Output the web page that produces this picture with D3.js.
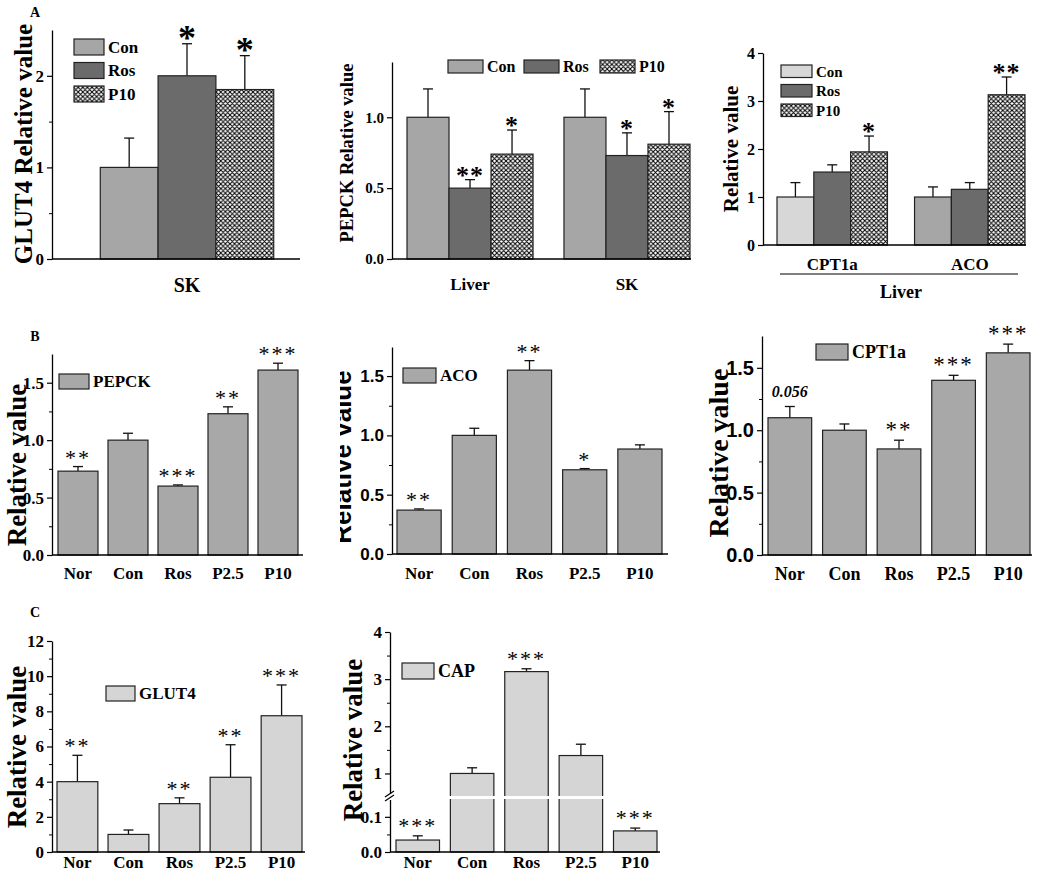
<!DOCTYPE html>
<html><head><meta charset="utf-8">
<script src="https://cdn.jsdelivr.net/npm/d3@7"></script>
<style>body{margin:0;background:#fff;} svg{display:block;}</style>
</head><body>
<svg id="c" width="1039" height="873"></svg>
<script>
// ---------------- DATA ----------------
const aSeries = ["Con", "Ros", "P10"];

const a1Groups = ["SK"];
const a1Values = [[1.00, 2.00, 1.85]];
const a1Errors = [[0.32, 0.35, 0.37]];
const a1Stars  = [["", "*", "*"]];
const a1YTicks = [0, 1, 2];

const a2Groups = ["Liver", "SK"];
const a2Values = [[1.00, 0.50, 0.74], [1.00, 0.73, 0.81]];
const a2Errors = [[0.20, 0.06, 0.17], [0.20, 0.16, 0.23]];
const a2Stars  = [["", "**", "*"], ["", "*", "*"]];
const a2YTicks = [0.0, 0.5, 1.0];

const a3Groups = ["CPT1a", "ACO"];
const a3Values = [[1.00, 1.52, 1.94], [1.00, 1.16, 3.13]];
const a3Errors = [[0.30, 0.15, 0.33], [0.21, 0.14, 0.37]];
const a3Stars  = [["", "", "*"], ["", "", "**"]];
const a3YTicks = [0, 1, 2, 3, 4];
const a3GroupLabel = "Liver";

const groups = ["Nor", "Con", "Ros", "P2.5", "P10"];

const pepckValues = [0.73, 1.00, 0.60, 1.23, 1.61];
const pepckErrors = [0.04, 0.06, 0.01, 0.06, 0.06];
const pepckStars  = ["**", "", "***", "**", "***"];

const acoValues = [0.37, 1.00, 1.55, 0.71, 0.885];
const acoErrors = [0.01, 0.06, 0.08, 0.01, 0.035];
const acoStars  = ["**", "", "**", "*", ""];

const cptValues = [1.10, 1.00, 0.85, 1.40, 1.62];
const cptErrors = [0.09, 0.05, 0.07, 0.04, 0.07];
const cptStars  = ["0.056", "", "**", "***", "***"];

const bYTicks = [0.0, 0.5, 1.0, 1.5];
const bYMinor = [0.25, 0.75, 1.25];

const glutValues = [4.0, 1.0, 2.75, 4.25, 7.75];
const glutErrors = [1.5, 0.25, 0.33, 1.85, 1.75];
const glutStars  = ["**", "", "**", "**", "***"];
const glutYTicks = [0, 2, 4, 6, 8, 10, 12];
const glutYMinor = [1, 3, 5, 7, 9, 11];

const capValues = [0.034, 1.00, 3.16, 1.38, 0.06];
const capErrors = [0.012, 0.12, 0.06, 0.24, 0.008];
const capStars  = ["***", "", "***", "", "***"];
const capYTicks = [0.0, 0.1, 1, 2, 3, 4];
const capYMinor = [0.05, 1.5, 2.5, 3.5];

// ---------------- STYLE ----------------
const SERIF = "'Liberation Serif','Times New Roman',serif";
const SANS = "'Liberation Sans',Arial,sans-serif";
const C_MED = "#a6a6a6", C_DARK = "#6b6b6b", C_LIGHT = "#d7d7d7", C_B = "#a8a8a8", C_C = "#d5d5d5";
const STROKE = "#222";

const svg = d3.select("#c");
const defs = svg.append("defs");
const pat = defs.append("pattern").attr("id", "hatch").attr("patternUnits", "userSpaceOnUse")
  .attr("width", 4.6).attr("height", 4.6);
pat.append("rect").attr("width", 4.6).attr("height", 4.6).attr("fill", "#fff");
pat.append("path").attr("d", "M0,0L4.6,4.6M4.6,0L0,4.6M-1,1L1,-1M3.6,5.6L5.6,3.6M-1,3.6L1,5.6M3.6,-1L5.6,1")
  .attr("stroke", "#000").attr("stroke-width", 1);

function txt(g, x, y, s, size, opt = {}) {
  return g.append("text").attr("x", x).attr("y", y).text(s)
    .attr("font-family", opt.family || SERIF).attr("font-size", size)
    .attr("font-weight", opt.weight || "bold").attr("font-style", opt.italic ? "italic" : "normal")
    .attr("text-anchor", opt.anchor || "middle").attr("letter-spacing", opt.ls || 0)
    .attr("fill", "#000");
}

function yAxis(g, scale, x, major, minor, fmt, size, family) {
  const ax = g.append("g").attr("transform", `translate(${x},0)`)
    .call(d3.axisLeft(scale).tickValues(major).tickSize(5).tickSizeOuter(0).tickPadding(3).tickFormat(fmt));
  ax.select(".domain").attr("stroke", "#000").attr("stroke-width", 1.3);
  ax.selectAll(".tick line").attr("stroke", "#000").attr("stroke-width", 1.2);
  ax.selectAll("text").attr("font-family", family).attr("font-size", size)
    .attr("font-weight", "bold").attr("fill", "#000");
  if (minor) {
    const m = g.append("g").attr("transform", `translate(${x},0)`)
      .call(d3.axisLeft(scale).tickValues(minor).tickSize(3).tickFormat(""));
    m.select(".domain").remove();
    m.selectAll("line").attr("stroke", "#000").attr("stroke-width", 1);
  }
  return ax;
}

function yLabel(g, cx, cy, s, size, family) {
  g.append("text").attr("transform", `translate(${cx + 0.35 * size},${cy}) rotate(-90)`)
    .text(s).attr("font-family", family || SERIF).attr("font-size", size).attr("font-weight", "bold")
    .attr("text-anchor", "middle").attr("fill", "#000");
}

function errBar(g, cx, y1, y2, cap) {
  g.append("line").attr("x1", cx).attr("x2", cx).attr("y1", y1).attr("y2", y2).attr("stroke", "#111").attr("stroke-width", 1.3);
  g.append("line").attr("x1", cx - cap).attr("x2", cx + cap).attr("y1", y2).attr("y2", y2).attr("stroke", "#111").attr("stroke-width", 1.3);
}

// ---------------- GROUPED PANELS (A) ----------------
function groupedPanel(o) {
  const g = svg.append("g");
  const y = d3.scaleLinear().domain(o.ydom).range(o.yr);
  const x0 = d3.scaleBand().domain(o.groups).range(o.xr).paddingInner(0.197);
  const x1 = d3.scaleBand().domain(aSeries).range([0, x0.bandwidth()]);
  o.groups.forEach((gr, gi) => {
    aSeries.forEach((s, si) => {
      const v = o.values[gi][si], e = o.errors[gi][si];
      const bx = x0(gr) + x1(s), cx = bx + x1.bandwidth() / 2;
      errBar(g, cx, y(v), y(v + e), 5);
      g.append("rect").attr("x", bx).attr("y", y(v)).attr("width", x1.bandwidth()).attr("height", y(0) - y(v))
        .attr("fill", o.color(gi, si)).attr("stroke", STROKE).attr("stroke-width", 1.2);
      const st = o.stars[gi][si];
      if (st) txt(g, cx + (o.starDx || 0), y(v + e) + o.starDy, st, o.starSize, { weight: "bold", ls: o.starLs || 0 });
    });
    txt(g, x0(gr) + x0.bandwidth() / 2, o.catY, gr, o.catSize);
  });
  g.append("line").attr("x1", o.axX).attr("x2", o.axEnd).attr("y1", y(0)).attr("y2", y(0)).attr("stroke", "#000").attr("stroke-width", 1.3);
  yAxis(g, y, o.axX, o.ticks, o.minor, o.fmt, o.tickSize, SERIF);
  yLabel(g, o.labX, o.labY, o.label, o.labSize);
  return { g, x0, y };
}

function legend(g, items, o) {
  items.forEach((it, i) => {
    const lx = o.x + (o.dx || 0) * i, ly = o.y + (o.dy || 0) * i;
    g.append("rect").attr("x", lx).attr("y", ly).attr("width", o.w).attr("height", o.h)
      .attr("fill", it.fill).attr("stroke", STROKE).attr("stroke-width", 1.2);
    txt(g, lx + o.w + 4, ly + o.h / 2 + o.size * 0.35, it.name, o.size, { anchor: "start" });
  });
}

const colA = (gi, si) => si === 0 ? C_MED : si === 1 ? C_DARK : "url(#hatch)";

// A1
const A1 = groupedPanel({
  groups: a1Groups, values: a1Values, errors: a1Errors, stars: a1Stars,
  ydom: [0, 2.5], yr: [259, 30], xr: [79, 295], axX: 52, axEnd: 300,
  ticks: a1YTicks, minor: [0.5, 1.5], fmt: d3.format("d"), tickSize: 17,
  color: colA, starDy: 6, starSize: 36, catY: 292, catSize: 20,
  label: "GLUT4 Relative value", labX: 23, labY: 144, labSize: 25
});
legend(A1.g, aSeries.map((s, i) => ({ name: s, fill: colA(0, i) })), { x: 74, y: 39, dy: 23.5, w: 30, h: 16, size: 17 });
txt(A1.g, 35, 17, "A", 14, { anchor: "middle" });

// A2
const A2 = groupedPanel({
  groups: a2Groups, values: a2Values, errors: a2Errors, stars: a2Stars,
  ydom: [0, 1.39], yr: [259, 62], xr: [407, 690], axX: 392, axEnd: 691,
  ticks: a2YTicks, minor: null, fmt: d3.format(".1f"), tickSize: 15,
  color: colA, starDy: 4, starSize: 26, starLs: 1, catY: 290, catSize: 17,
  label: "PEPCK Relative value", labX: 347, labY: 153, labSize: 18.5
});
legend(A2.g, aSeries.map((s, i) => ({ name: s, fill: colA(0, i) })), { x: 448, y: 60, dx: 76, w: 35, h: 13, size: 16 });

// A3
const colA3 = (gi, si) => si === 0 ? (gi === 0 ? C_LIGHT : C_MED) : si === 1 ? C_DARK : "url(#hatch)";
const A3 = groupedPanel({
  groups: a3Groups, values: a3Values, errors: a3Errors, stars: a3Stars,
  ydom: [0, 4], yr: [245, 53], xr: [777, 1025], axX: 763, axEnd: 1026,
  ticks: a3YTicks, minor: null, fmt: d3.format("d"), tickSize: 16,
  color: colA3, starDy: 4, starSize: 26, starLs: 1, catY: 270, catSize: 17,
  label: "Relative value", labX: 731, labY: 149, labSize: 21
});
legend(A3.g, aSeries.map((s, i) => ({ name: s, fill: colA3(0, i) })), { x: 781, y: 65, dy: 19.5, w: 31, h: 12.5, size: 15 });
A3.g.append("line").attr("x1", A3.x0(a3Groups[0]) + 3).attr("x2", A3.x0(a3Groups[1]) + A3.x0.bandwidth() - 7)
  .attr("y1", 274).attr("y2", 274).attr("stroke", "#000").attr("stroke-width", 1.2);
txt(A3.g, (A3.x0(a3Groups[0]) + A3.x0(a3Groups[1]) + A3.x0.bandwidth()) / 2, 298, a3GroupLabel, 18);

// ---------------- SIMPLE PANELS (B, C) ----------------
function simplePanel(o) {
  const g = svg.append("g");
  const y = o.y;
  const x = d3.scaleBand().domain(groups).range(o.xr).paddingInner(0.2);
  groups.forEach((c, i) => {
    const v = o.values[i], e = o.errors[i], cx = x(c) + x.bandwidth() / 2;
    errBar(g, cx, y(v), y(v + e), 5);
    g.append("rect").attr("x", x(c)).attr("y", y(v)).attr("width", x.bandwidth()).attr("height", y(0) - y(v))
      .attr("fill", o.fill).attr("stroke", STROKE).attr("stroke-width", 1.2);
    const st = o.stars[i];
    if (st) {
      if (/\d/.test(st)) txt(g, cx, y(v + e) - 10, st, 16, { italic: true });
      else txt(g, cx, y(v + e) + o.starDy, st, o.starSize, { weight: "normal", ls: 2 });
    }
    txt(g, cx, o.catY, c, o.catSize);
  });
  g.append("line").attr("x1", o.axX).attr("x2", o.axEnd).attr("y1", y(0)).attr("y2", y(0)).attr("stroke", "#000").attr("stroke-width", 1.3);
  yAxis(g, y, o.axX, o.ticks, o.minor, o.fmt, o.tickSize, o.tickFamily || SERIF);
  legend(g, [{ name: o.name, fill: o.fill }], o.leg);
  return { g, x, y };
}

// B1
const B1 = simplePanel({
  values: pepckValues, errors: pepckErrors, stars: pepckStars, name: "PEPCK", fill: C_B,
  y: d3.scaleLinear().domain([0, 1.75]).range([555, 354]), xr: [58, 298], axX: 52, axEnd: 303,
  ticks: bYTicks, minor: bYMinor, fmt: d3.format(".1f"), tickSize: 17,
  starDy: -2, starSize: 22, catY: 579, catSize: 17,
  leg: { x: 59, y: 374, w: 30, h: 15, size: 17 }
});
yLabel(B1.g, 17, 465, "Relative value", 27);
txt(B1.g, 35, 341, "B", 14);

// B2
const B2 = simplePanel({
  values: acoValues, errors: acoErrors, stars: acoStars, name: "ACO", fill: C_B,
  y: d3.scaleLinear().domain([0, 1.745]).range([554, 347]), xr: [397, 662], axX: 392, axEnd: 668,
  ticks: bYTicks, minor: bYMinor, fmt: d3.format(".1f"), tickSize: 17, tickFamily: SANS,
  starDy: -2, starSize: 22, catY: 579, catSize: 17,
  leg: { x: 403, y: 368, w: 33, h: 15, size: 17 }
});
const clip = defs.append("clipPath").attr("id", "clipB2");
clip.append("rect").attr("x", 340).attr("y", 300).attr("width", 40).attr("height", 290);
const b2lab = B2.g.append("g").attr("clip-path", "url(#clipB2)");
b2lab.append("text").attr("transform", "translate(351,457) rotate(-90)").text("Relative value")
  .attr("font-family", SANS).attr("font-size", 26).attr("font-weight", "bold").attr("text-anchor", "middle");

// B3
const B3 = simplePanel({
  values: cptValues, errors: cptErrors, stars: cptStars, name: "CPT1a", fill: C_B,
  y: d3.scaleLinear().domain([0, 1.755]).range([555, 336]), xr: [768, 1030], axX: 762, axEnd: 1032,
  ticks: bYTicks, minor: bYMinor, fmt: d3.format(".1f"), tickSize: 20, tickFamily: SANS,
  starDy: -3, starSize: 23, catY: 580, catSize: 18,
  leg: { x: 816, y: 344, w: 32, h: 16, size: 18 }
});
yLabel(B3.g, 718, 453, "Relative value", 28);

// C1
const C1 = simplePanel({
  values: glutValues, errors: glutErrors, stars: glutStars, name: "GLUT4", fill: C_C,
  y: d3.scaleLinear().domain([0, 12]).range([852, 641]), xr: [57, 302], axX: 52, axEnd: 305,
  ticks: glutYTicks, minor: glutYMinor, fmt: d3.format("d"), tickSize: 17,
  starDy: -2, starSize: 22, catY: 868, catSize: 17,
  leg: { x: 106, y: 686, w: 29, h: 15, size: 17 }
});
yLabel(C1.g, 17, 747, "Relative value", 27);
txt(C1.g, 35, 617, "C", 14);

// C2 (broken axis)
const capY = d3.scaleLinear().domain([0, 0.155, 0.49, 4]).range([852, 797.5, 797.5, 632]);
const C2 = simplePanel({
  values: capValues, errors: capErrors, stars: capStars, name: "CAP", fill: C_C,
  y: capY, xr: [396, 657], axX: 390, axEnd: 660,
  ticks: capYTicks, minor: capYMinor, fmt: d => d < 0.5 ? d3.format(".1f")(d) : d3.format("d")(d), tickSize: 17,
  starDy: -3, starSize: 22, catY: 868, catSize: 17,
  leg: { x: 402, y: 663, w: 32, h: 16, size: 18 }
});
C2.g.append("rect").attr("x", 391).attr("y", 796).attr("width", 270).attr("height", 3).attr("fill", "#fff");
C2.g.append("rect").attr("x", 387).attr("y", 794).attr("width", 6).attr("height", 6).attr("fill", "#fff");
C2.g.append("path").attr("d", "M385,797L394,791M385,801L394,795").attr("stroke", "#000").attr("stroke-width", 1.2);
yLabel(C2.g, 353, 740, "Relative value", 27);
</script>
</body></html>
